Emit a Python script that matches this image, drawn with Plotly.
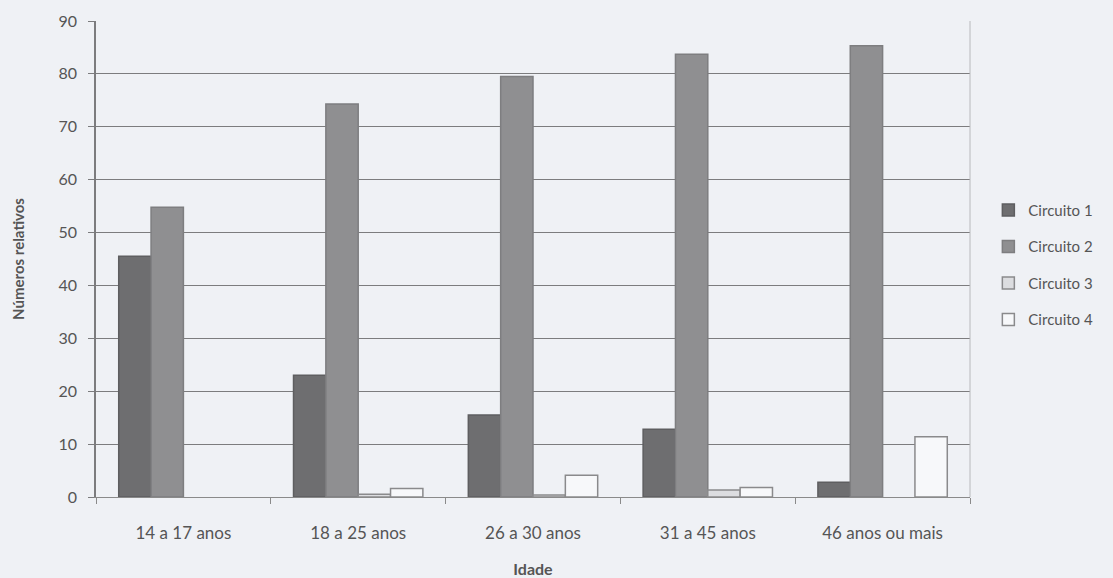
import plotly.graph_objects as go

# Age groups and relative numbers per circuit
idades = ["14 a 17 anos", "18 a 25 anos", "26 a 30 anos", "31 a 45 anos", "46 anos ou mais"]
circuito_1 = [45.5, 23.0, 15.5, 12.8, 2.8]
circuito_2 = [54.8, 74.3, 79.5, 83.7, 85.3]
circuito_3 = [0.0, 0.5, 0.4, 1.3, 0.0]
circuito_4 = [0.0, 1.6, 4.1, 1.8, 11.4]
y_ticks = [0, 10, 20, 30, 40, 50, 60, 70, 80, 90]

bg = "#eff1f5"
text_col = "#555555"
font_family = "Lato, 'Open Sans', sans-serif"

series = [
    ("Circuito 1", circuito_1, "#6e6e70", "#5e5e60"),
    ("Circuito 2", circuito_2, "#8f8f91", "#7e7e80"),
    ("Circuito 3", circuito_3, "#dcdde0", "#8a8a8c"),
    ("Circuito 4", circuito_4, "#f7f8fa", "#8a8a8c"),
]

fig = go.Figure()
for i, (name, vals, fill, line) in enumerate(series):
    # no outline on empty bars so zero values stay invisible
    widths = [1.5 if v > 0 else 0 for v in vals]
    fig.add_trace(go.Bar(
        x=idades, y=vals, name=name,
        marker=dict(color=fill, line=dict(color=line, width=widths)),
        legendgroup=f"g{i}", showlegend=False,
    ))
    # legend swatch with a full outline
    fig.add_trace(go.Scatter(
        x=[None], y=[None], mode="markers", name=name,
        marker=dict(symbol="square", size=12, color=fill,
                    line=dict(color=line, width=1.5)),
        legendgroup=f"g{i}", showlegend=True,
    ))

fig.update_layout(
    width=1113, height=578,
    margin=dict(l=96, r=143, t=21, b=81),
    paper_bgcolor=bg, plot_bgcolor=bg,
    barmode="group", bargap=0.26, bargroupgap=0,
    font=dict(family=font_family, color=text_col, size=15),
    showlegend=True,
    legend=dict(
        x=1.021, y=0.488, xanchor="left", yanchor="middle",
        bgcolor="rgba(0,0,0,0)", font=dict(size=15, color=text_col),
        tracegroupgap=14, itemwidth=30,
    ),
    xaxis=dict(
        title=dict(text="<b>Idade</b>", font=dict(size=16, color=text_col), standoff=26),
        showgrid=False, showline=True, linecolor="#8a8a8a", linewidth=1,
        ticks="outside", tickson="boundaries", ticklen=6, tickcolor="#8a8a8a",
        tickfont=dict(size=17, color=text_col), ticklabelstandoff=21,
        mirror=False, automargin=False,
    ),
    yaxis=dict(
        title=dict(text="<b>Números relativos</b>", font=dict(size=15, color=text_col), standoff=30),
        range=[0, 90], tickvals=y_ticks,
        showgrid=True, gridcolor="#7c7c7e", gridwidth=1,
        showline=True, linecolor="#7c7c7e", linewidth=1.5,
        ticks="outside", ticklen=6, tickcolor="#7c7c7e",
        tickfont=dict(size=16, color=text_col), ticklabelstandoff=8,
        zeroline=False, automargin=False,
    ),
)

# Light frame on the right side of the plotting area
fig.add_shape(type="line", xref="paper", yref="paper", x0=1, x1=1, y0=0, y1=1,
              line=dict(color="#b8b9bc", width=1))

fig.write_html("out.html")
